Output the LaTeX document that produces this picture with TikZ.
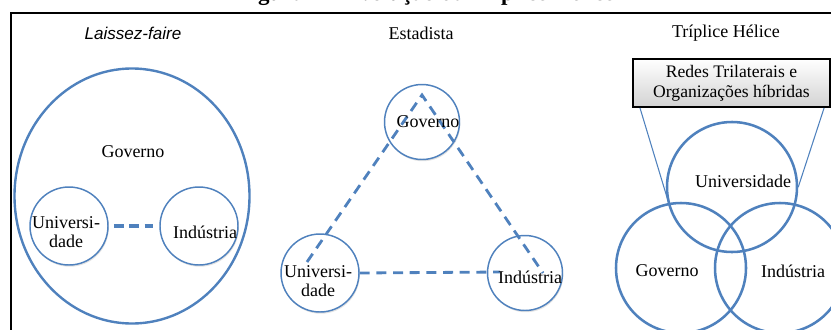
\documentclass[tikz,border=0pt]{standalone}
\usepackage{fontspec}
\setmainfont{Liberation Serif}
\setsansfont{Liberation Sans}
\usetikzlibrary{shapes.geometric,shadows}
\definecolor{hblue}{RGB}{79,129,189}
\newcommand\ux{0.75pt}
\tikzset{
  bigring/.style={ellipse, draw=hblue, line width=1.8pt, inner sep=0pt},
  orb/.style={circle, draw=hblue, line width=1.1pt, fill=white, inner sep=0pt,
    drop shadow={opacity=0.22, shadow xshift=0.6pt, shadow yshift=-1.3pt}},
  helix/.style={circle, draw=hblue, line width=1.9pt, inner sep=0pt},
  lfdash/.style={draw=hblue, line width=3pt, dash pattern=on 7.5pt off 4.1pt},
  esdash/.style={draw=hblue, line width=2.1pt, dash pattern=on 7.5pt off 5pt},
  netbox/.style={draw=black, line width=1.5pt, align=center, inner sep=0pt,
    top color=white, bottom color=gray!35,
    font=\fontsize{13.2}{15}\selectfont},
  tie/.style={draw=hblue, line width=0.8pt}
}
\begin{document}
\begin{tikzpicture}[x=0.75pt,y=-0.75pt,font=\fontsize{13.5}{14}\selectfont]
\useasboundingbox (0,0) rectangle (831,329);
\draw[line width=1.6pt] (11,340) -- (11,13) -- (840,13);
\node[font=\bfseries\fontsize{17.25}{18}\selectfont, anchor=base] (title) at (426,0.6) {Figura 1 – Evolução da Tríplice Hélice};

\node[font=\sffamily\itshape\fontsize{12.8}{14}\selectfont] (lf) at (133,33) {Laissez-faire};
\node (es) at (421,33) {Estadista};
\node (th) at (726,33) {Tríplice Hélice};

\node[bigring, minimum width=235*\ux, minimum height=255*\ux] (lfgov) at (132,196) {};
\node[orb, minimum size=78*\ux] (lfuni) at (69,226) {};
\node[orb, minimum size=78*\ux] (lfind) at (199,226) {};
\draw[lfdash, shorten <=3.8pt, shorten >=4.5pt] (lfuni) -- (lfind);
\node (lfgovt) at (133,152) {Governo};
\node[align=center] (lfunit) at (66,232) {Universi-\\dade};
\node (lfindt) at (205,232) {Indústria};

\node[orb, minimum size=75*\ux] (esgov) at (422,122) {};
\node[orb, minimum size=78*\ux] (esuni) at (320,273) {};
\node[orb, minimum size=75*\ux] (esind) at (525,273) {};
\coordinate (apex) at (422,95);
\coordinate (esul) at (307,262);
\coordinate (esir) at (543,273);
\coordinate (esil) at (500,272);
\draw[esdash] (esul) -- (apex) -- (esir);
\draw[esdash] (esuni.east) -- (esil);
\node (esgovt) at (428,122) {Governo};
\node[align=center] (esunit) at (318,281) {Universi-\\dade};
\node (esindt) at (530,277) {Indústria};

\node[helix, minimum size=130*\ux] (thuni) at (732,187) {};
\node[helix, minimum size=130*\ux] (thgov) at (681,268) {};
\node[helix, minimum size=130*\ux] (thind) at (780,268) {};
\node[netbox, minimum width=197*\ux, minimum height=48*\ux] (rede) at (731.5,83) {Redes Trilaterais e\\Organizações híbridas};
\coordinate (tgu) at (669,204);
\draw[tie] ([xshift=6pt]rede.south west) -- (tgu);
\draw[tie] ([xshift=-5.2pt]rede.south east) -- (thuni.east);
\node (thunit) at (743,181) {Universidade};
\node (thgovt) at (667,271) {Governo};
\node (thindt) at (793,271) {Indústria};
\end{tikzpicture}
\end{document}
